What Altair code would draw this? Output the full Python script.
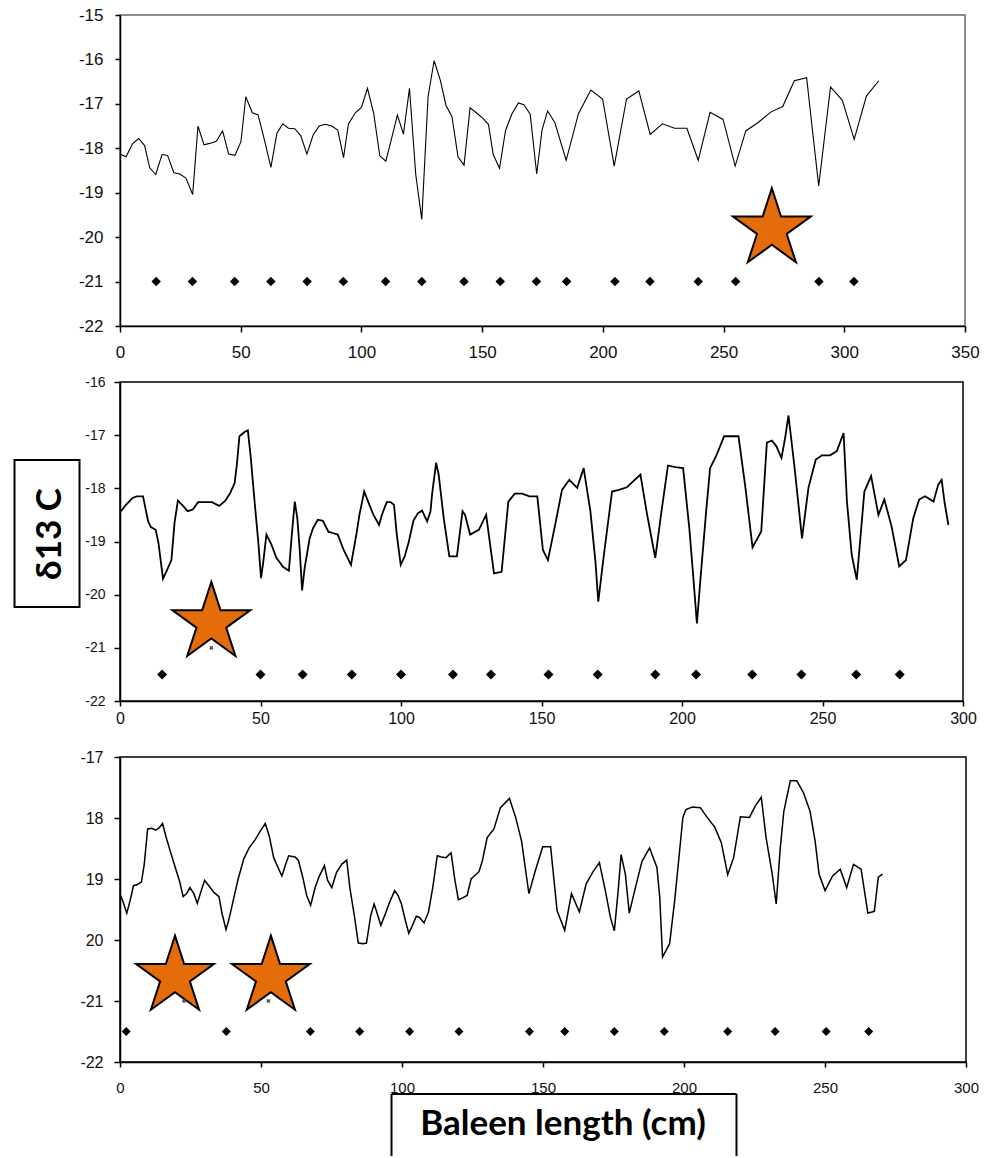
import altair as alt
import pandas as pd

# ---------------- Panel 1 (top) ----------------
p1_x = [0, 2.5, 5.2, 7.7, 10.2, 12.3, 14.8, 17.4, 19.7, 22.3, 24.8, 27.3, 30.1, 32.3, 34.8, 37.1, 39.9, 42.5, 45.0, 47.6,
        50.1, 52.1, 54.8, 57.2, 60.0, 62.5, 65.0, 67.4, 69.8, 72.4, 74.9, 77.4, 80.0, 82.5, 85.0, 87.7, 90.2, 92.6, 94.6, 97.5,
        100.0, 102.5, 105.1, 107.6, 110.1, 112.4, 114.9, 117.4, 119.9, 122.5, 125.0, 127.6, 130.1, 132.7, 135.0, 137.5, 140.0, 142.5, 145.0, 147.6,
        150.2, 152.6, 154.6, 157.2, 159.7, 162.3, 165.0, 167.3, 169.9, 172.6, 174.8, 177.1, 180.1, 184.8, 189.9, 195.0, 199.9, 204.7, 209.8, 214.9,
        219.6, 224.7, 229.7, 234.8, 239.5, 244.4, 249.8, 254.8, 259.2, 264.3, 269.7, 274.5, 279.3, 284.4, 289.4, 294.3, 299.2, 304.1, 309.2, 314.3]
p1_y = [-18.13, -18.19, -17.90, -17.78, -17.94, -18.44, -18.59, -18.14, -18.16, -18.55, -18.58, -18.67, -19.04, -17.50, -17.92, -17.89, -17.84, -17.61, -18.13, -18.16,
        -17.85, -16.84, -17.20, -17.25, -17.85, -18.43, -17.66, -17.45, -17.55, -17.56, -17.72, -18.13, -17.70, -17.50, -17.46, -17.50, -17.59, -18.21, -17.45, -17.20,
        -17.08, -16.65, -17.22, -18.17, -18.29, -17.80, -17.25, -17.68, -16.65, -18.59, -19.60, -16.84, -16.03, -16.47, -17.03, -17.29, -18.19, -18.38, -17.09, -17.20,
        -17.32, -17.46, -18.14, -18.45, -17.60, -17.23, -16.98, -17.02, -17.23, -18.58, -17.59, -17.16, -17.42, -18.27, -17.22, -16.69, -16.89, -18.40, -16.89, -16.71,
        -17.69, -17.45, -17.55, -17.55, -18.27, -17.19, -17.35, -18.40, -17.61, -17.42, -17.18, -17.06, -16.48, -16.41, -18.85, -16.62, -16.92, -17.80, -16.82, -16.48]
p1_dots_x = [15, 30, 47.5, 62.5, 77.5, 92.5, 110, 125, 142.5, 157.5, 172.5, 185, 205, 219.5, 239.5, 255, 289.5, 304]
p1_dots_y = [-21.0] * len(p1_dots_x)
p1_star_x = [270]
p1_star_y = [-19.82]

# ---------------- Panel 2 (middle) ----------------
p2_x = [0.4, 2.1, 4.5, 5.9, 8.2, 10.0, 11.0, 12.7, 13.7, 15.3, 16.8, 18.3, 19.4, 20.6, 22.1, 24.1, 25.9, 27.8, 30.4, 32.7,
        35.3, 37.5, 39.2, 40.8, 41.6, 42.5, 44.3, 45.5, 46.5, 48.0, 49.2, 50.2, 51.0, 52.1, 53.9, 55.7, 58.1, 60.1, 61.2, 62.2,
        63.1, 64.0, 64.8, 65.7, 67.5, 68.7, 70.4, 72.2, 74.2, 75.7, 77.5, 79.6, 82.2, 84.2, 85.2, 86.9, 88.3, 90.2, 92.2, 93.2,
        94.9, 96.3, 97.5, 98.5, 99.9, 101.3, 102.8, 104.4, 106.0, 107.5, 109.3, 110.5, 111.1, 112.5, 113.4, 115.2, 117.2, 119.9, 121.9, 122.8,
        124.6, 127.7, 130.3, 133.1, 135.8, 138.2, 140.5, 143.1, 145.7, 148.5, 150.5, 152.3, 155.0, 157.3, 159.9, 162.7, 165.0, 167.4, 169.2, 170.2,
        172.2, 175.1, 177.5, 180.4, 185.2, 187.6, 190.5, 192.7, 195.0, 197.6, 200.4, 202.6, 204.1, 205.3, 206.5, 208.6, 210.0, 212.4, 215.0, 217.7,
        220.1, 222.5, 225.1, 228.2, 230.2, 232.0, 233.6, 235.4, 236.7, 237.9, 240.0, 242.7, 245.0, 247.6, 249.8, 252.7, 255.1, 257.5, 258.7, 260.4,
        262.2, 264.9, 267.3, 269.9, 272.0, 274.6, 277.3, 279.7, 282.3, 284.4, 286.5, 289.5, 291.2, 292.4, 293.4, 294.8]
p2_y = [-18.43, -18.31, -18.18, -18.15, -18.15, -18.62, -18.73, -18.78, -19.03, -19.70, -19.53, -19.35, -18.65, -18.23, -18.31, -18.43, -18.40, -18.26, -18.26, -18.26,
        -18.33, -18.23, -18.09, -17.90, -17.55, -17.02, -16.94, -16.91, -17.40, -18.31, -19.00, -19.69, -19.38, -18.87, -19.06, -19.31, -19.48, -19.55, -18.84, -18.25,
        -18.56, -19.19, -19.92, -19.50, -18.94, -18.75, -18.59, -18.61, -18.82, -18.84, -18.87, -19.16, -19.44, -18.84, -18.50, -18.06, -18.25, -18.50, -18.69, -18.50,
        -18.26, -18.26, -18.31, -18.87, -19.44, -19.28, -19.00, -18.61, -18.47, -18.42, -18.62, -18.43, -18.09, -17.52, -17.74, -18.56, -19.28, -19.28, -18.43, -18.50,
        -18.87, -18.78, -18.50, -19.60, -19.57, -18.25, -18.10, -18.10, -18.15, -18.15, -19.16, -19.35, -18.65, -18.03, -17.84, -17.99, -17.62, -18.43, -19.38, -20.13,
        -19.25, -18.06, -18.03, -17.98, -17.74, -18.50, -19.31, -18.43, -17.57, -17.60, -17.62, -18.75, -19.72, -20.54, -19.75, -18.43, -17.62, -17.36, -17.02, -17.02,
        -17.02, -17.96, -19.11, -18.81, -17.14, -17.10, -17.21, -17.43, -17.05, -16.63, -17.58, -18.94, -17.99, -17.46, -17.38, -17.38, -17.30, -16.96, -18.25, -19.25,
        -19.72, -18.06, -17.77, -18.50, -18.21, -18.72, -19.47, -19.35, -18.56, -18.21, -18.15, -18.25, -17.93, -17.84, -18.25, -18.69]
p2_dots_x = [15, 50, 65, 82.5, 100, 118.5, 132, 152.5, 170, 190.5, 205, 225, 242.5, 262, 277.5]
p2_dots_y = [-21.5] * len(p2_dots_x)
p2_star_x = [32.5]
p2_star_y = [-20.53]
p2_mark_x = [32.5]
p2_mark_y = [-21.0]

# ---------------- Panel 3 (bottom) ----------------
p3_x = [0.1, 0.9, 2.4, 3.6, 4.8, 6.2, 7.6, 8.6, 9.8, 11.3, 12.7, 13.9, 15.1, 16.2, 17.6, 19.8, 21.2, 22.4, 23.6, 24.8,
        26.2, 27.4, 28.6, 30.0, 31.5, 33.3, 35.1, 36.2, 37.6, 38.8, 40.4, 41.9, 43.9, 45.9, 48.0, 49.8, 51.5, 52.9, 54.5, 55.9,
        57.4, 58.6, 59.8, 62.1, 63.3, 64.7, 66.2, 67.6, 69.2, 70.6, 72.5, 73.6, 75.1, 76.8, 78.6, 80.4, 81.5, 83.1, 84.5, 86.2,
        87.4, 88.9, 90.1, 90.9, 92.5, 94.1, 95.6, 97.4, 98.6, 99.8, 101.2, 102.4, 103.5, 105.1, 106.2, 107.8, 109.4, 110.9, 112.5, 113.9,
        115.6, 117.4, 118.8, 120.0, 121.5, 123.1, 124.5, 127.3, 128.5, 130.2, 132.6, 134.9, 138.1, 140.3, 142.4, 145.0, 147.3, 149.9, 152.7, 155.0,
        157.7, 160.1, 162.9, 165.3, 167.6, 170.0, 172.1, 173.9, 175.3, 176.6, 177.7, 179.2, 180.6, 182.5, 185.1, 187.8, 190.4, 191.4, 192.4, 194.9,
        196.7, 198.1, 199.6, 200.7, 202.9, 205.8, 208.2, 210.9, 213.2, 215.5, 217.6, 220.0, 223.2, 225.3, 227.4, 229.1, 231.2, 232.7, 234.1, 235.4,
        237.7, 240.0, 242.4, 244.7, 246.5, 247.9, 250.0, 252.7, 255.4, 257.7, 260.1, 262.8, 265.2, 267.5, 268.9, 270.4]
p3_y = [-19.26, -19.35, -19.56, -19.35, -19.11, -19.09, -19.05, -18.76, -18.18, -18.17, -18.20, -18.16, -18.09, -18.29, -18.51, -18.84, -19.05, -19.29, -19.24, -19.14,
        -19.24, -19.40, -19.22, -19.02, -19.11, -19.22, -19.29, -19.57, -19.83, -19.63, -19.30, -19.00, -18.67, -18.48, -18.35, -18.21, -18.09, -18.29, -18.65, -18.80,
        -18.95, -18.78, -18.62, -18.64, -18.70, -18.95, -19.27, -19.43, -19.14, -18.96, -18.78, -19.02, -19.14, -18.89, -18.76, -18.69, -19.14, -19.60, -20.05, -20.06,
        -20.05, -19.60, -19.41, -19.52, -19.76, -19.57, -19.38, -19.19, -19.27, -19.41, -19.68, -19.89, -19.78, -19.61, -19.63, -19.72, -19.54, -19.14, -18.62, -18.64,
        -18.65, -18.57, -19.03, -19.34, -19.31, -19.27, -19.00, -18.88, -18.70, -18.32, -18.18, -17.83, -17.68, -17.99, -18.38, -19.24, -18.86, -18.47, -18.47, -19.52,
        -19.84, -19.24, -19.54, -19.08, -18.89, -18.73, -19.19, -19.63, -19.85, -19.22, -18.60, -18.92, -19.56, -19.19, -18.71, -18.49, -18.81, -19.30, -20.28, -20.06,
        -19.35, -18.70, -17.99, -17.86, -17.82, -17.83, -17.99, -18.15, -18.40, -18.93, -18.65, -17.98, -17.99, -17.80, -17.66, -18.32, -18.89, -19.41, -18.51, -17.89,
        -17.39, -17.39, -17.59, -17.89, -18.38, -18.92, -19.19, -18.95, -18.84, -19.14, -18.76, -18.84, -19.56, -19.53, -18.97, -18.92]
p3_dots_x = [2.2, 37.7, 67.5, 85, 102.7, 120.2, 145.2, 157.7, 175.3, 193, 215.5, 232.3, 250.4, 265.5]
p3_dots_y = [-21.5] * len(p3_dots_x)
p3_star_x = [19.5, 53.5]
p3_star_y = [-20.6, -20.6]
p3_mark_x = [22.7, 52.6]
p3_mark_y = [-21.0, -21.0]

y_label_text = "δ13 C"
x_label_text = "Baleen length (cm)"

STAR = ("M0,-1L0.2245,-0.309L0.9511,-0.309L0.3633,0.118L0.5878,0.809L0,0.382"
        "L-0.5878,0.809L-0.3633,0.118L-0.9511,-0.309L-0.2245,-0.309Z")
ORANGE = "#E46C0A"
AXFONT = "Liberation Sans"


def df(xs, ys):
    return pd.DataFrame({"x": xs, "y": ys})


def panel(lx, ly, dx, dy, sx, sy, mx, my, xdom, ydom, xvals, yvals, w, h,
          fs_y, fs_x, ytick, ypad, xtick, xpad, ylabexpr, line_w, dot_size, frame):
    xs = alt.Scale(domain=xdom, nice=False, zero=False)
    ys = alt.Scale(domain=ydom, nice=False, zero=False)
    xaxis = alt.Axis(values=xvals, title=None, grid=False, labelFont=AXFONT, labelFontSize=fs_x,
                     labelColor="#111", tickColor="black", tickSize=xtick, tickWidth=1.5,
                     labelPadding=xpad, domainColor="black", domainWidth=1.5,
                     labelFlush=False, labelOverlap=False)
    yaxis = alt.Axis(values=yvals, title=None, grid=False, labelFont=AXFONT, labelFontSize=fs_y,
                     labelColor="#111", tickColor="black", tickSize=ytick, tickWidth=1.5,
                     labelPadding=ypad, domainColor="black", domainWidth=1.5,
                     labelExpr=ylabexpr, labelOverlap=False)
    enc = dict(x=alt.X("x:Q", scale=xs, axis=xaxis), y=alt.Y("y:Q", scale=ys, axis=yaxis))
    line = alt.Chart(df(lx, ly)).mark_line(color="black", strokeWidth=line_w).encode(
        order="x:Q", **enc)
    dots = alt.Chart(df(dx, dy)).mark_point(shape="diamond", filled=True, color="black",
                                             size=dot_size, opacity=1).encode(**enc)
    stars = alt.Chart(df(sx, sy)).mark_point(shape=STAR, filled=True, fill=ORANGE, stroke="black",
                                              strokeWidth=2, size=6700, opacity=1,
                                              strokeJoin="miter").encode(**enc)
    layers = [line, dots, stars]
    if mx:
        marks = alt.Chart(df(mx, my)).mark_point(shape="cross", filled=True, color="#555",
                                                  size=18, angle=45, opacity=1).encode(**enc)
        layers.append(marks)
    return layers, dict(width=w, height=h, view=alt.ViewBackground(stroke=frame, strokeWidth=1.5))


one = pd.DataFrame({"a": [0]})

# Panel 1
l1, props1 = panel(p1_x, p1_y, p1_dots_x, p1_dots_y, p1_star_x, p1_star_y, [], [],
                   [0, 350], [-22, -15], list(range(0, 351, 50)), list(range(-22, -14)),
                   845, 311, 17, 17, 5, 12, 6, 12, "'-' + abs(datum.value)", 1.1, 90, "#666")
panel1 = alt.layer(*l1).properties(**props1)

# Panel 2 (with the y-title box)
l2, props2 = panel(p2_x, p2_y, p2_dots_x, p2_dots_y, p2_star_x, p2_star_y, p2_mark_x, p2_mark_y,
                   [0, 300], [-22, -16], list(range(0, 301, 50)), list(range(-22, -15)),
                   843, 319, 14, 16, 6, 9, 5, 4, "'-' + abs(datum.value)", 1.8, 100, "black")
ybox = alt.Chart(one).mark_rect(fill="white", stroke="black", strokeWidth=2).encode(
    x=alt.value(-105.5), x2=alt.value(-40.5), y=alt.value(78), y2=alt.value(225))
ytext = alt.Chart(one).mark_text(font="Lato", fontWeight="bold", fontSize=35, angle=270,
                                 align="center", baseline="middle", color="black").encode(
    x=alt.value(-70), y=alt.value(152), text=alt.value(y_label_text))
panel2 = alt.layer(*l2, ybox, ytext).properties(**props2)

# Panel 3 (with the x-title box)
l3, props3 = panel(p3_x, p3_y, p3_dots_x, p3_dots_y, p3_star_x, p3_star_y, p3_mark_x, p3_mark_y,
                   [0, 300], [-22, -17], list(range(0, 301, 50)), list(range(-22, -16)),
                   846, 305, 16, 15, 6, 11, 5, 13,
                   "(datum.value >= -20 && datum.value <= -18) ? '' + abs(datum.value) : '-' + abs(datum.value)",
                   1.5, 80, "black")
bl = alt.Chart(one).mark_rule(color="black", strokeWidth=2).encode(
    x=alt.value(271.5), y=alt.value(337), y2=alt.value(399))
br = alt.Chart(one).mark_rule(color="black", strokeWidth=2).encode(
    x=alt.value(616.5), y=alt.value(337), y2=alt.value(399))
bt = alt.Chart(one).mark_rule(color="black", strokeWidth=2).encode(
    x=alt.value(271.5), x2=alt.value(616.5), y=alt.value(337))
xtext = alt.Chart(one).mark_text(font="Lato", fontWeight="bold", fontSize=35,
                                 align="center", baseline="alphabetic", color="black").encode(
    x=alt.value(443), y=alt.value(378), text=alt.value(x_label_text))
panel3 = alt.layer(*l3, bl, br, bt, xtext).properties(**props3)

chart = alt.vconcat(panel1, panel2, panel3, spacing=56, bounds="flush").properties(
    padding={"left": 12, "top": 5, "right": 5, "bottom": 0},
    background="white",
)

chart.save("out.html", embed_options={"renderer": "svg", "actions": False})
